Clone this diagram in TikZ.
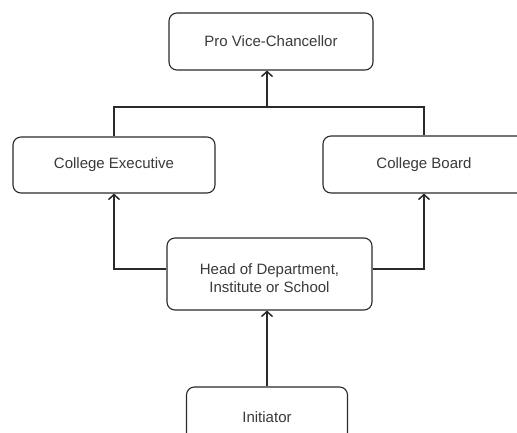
\documentclass[tikz,border=0pt]{standalone}
\usepackage{fontspec}
\setmainfont{Liberation Sans}
\usetikzlibrary{arrows.meta}
\definecolor{linegray}{HTML}{2A2A2A}
\definecolor{textgray}{HTML}{3A3A3A}

\begin{document}
\begin{tikzpicture}[x=1pt,y=-1pt,
		role_node/.style={rectangle,rounded corners=8pt,draw=linegray,line width=1.1pt,fill=white,text=textgray,font=\fontsize{15}{18}\selectfont,align=center,inner sep=0pt},
		link/.style={line width=1.2pt,draw=linegray},
		up_arrow/.style={link,-{Straight Barb[length=5pt,width=11pt,line width=1.5pt]}}]
		
		\useasboundingbox (0,0) rectangle (517,433);
		\clip (0,0) rectangle (517,433);
		
		\node[role_node,minimum width=204pt,minimum height=57pt] (pvc) at (271,41.5) {Pro Vice-Chancellor};
		\node[role_node,minimum width=202pt,minimum height=56pt] (exec) at (114,165) {College Executive};
		\node[role_node,minimum width=202pt,minimum height=57pt] (board) at (424,164.5) {College Board};
		\node[role_node,minimum width=205pt,minimum height=72pt] (head) at (269.5,274) {\raisebox{0pt}[\dimexpr\height+12pt\relax]{\begin{tabular}{@{}c@{}}Head of Department,\\Institute or School\end{tabular}}};
		\node[role_node,minimum width=161pt,minimum height=60pt] (init) at (267,417) {Initiator};
		
		\coordinate (join) at (267,107);
		
		\draw[link] (exec.north) |- (join) -| (board.north);
		\draw[up_arrow] (join) -- (join |- pvc.south);
		\draw[up_arrow] ([yshift=5pt]head.west) -| (exec.south);
		\draw[up_arrow] ([yshift=5pt]head.east) -| (board.south);
		\draw[up_arrow] (init.north) -- (init.north |- head.south);
		\end{tikzpicture}
\end{document}
